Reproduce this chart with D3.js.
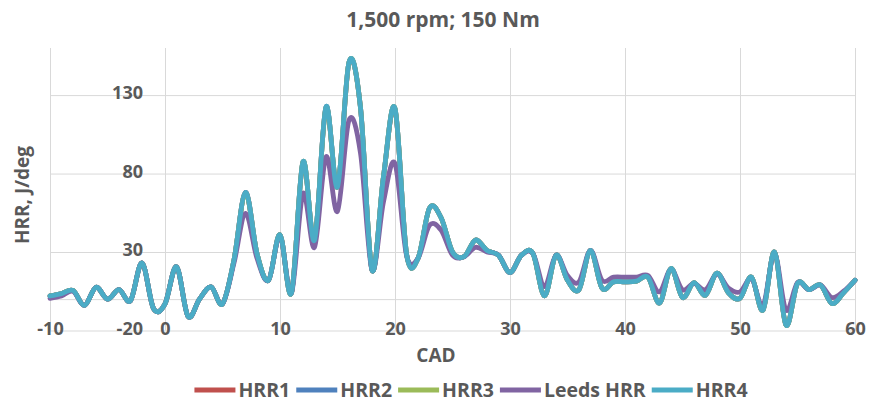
<!DOCTYPE html>
<html>
<head>
<meta charset="utf-8">
<script src="https://cdn.jsdelivr.net/npm/d3@7"></script>
<style>
  body { margin: 0; background: #fff; }
  svg text { font-family: "Open Sans", sans-serif; font-weight: 700; fill: #595959; }
</style>
</head>
<body>
<div id="chart"></div>
<script>
// crank angle (deg)
var cad = [-10, -9, -8, -7, -6, -5, -4, -3, -2, -1, 0, 1, 2, 3, 4, 5, 6, 7, 8, 9,
  10, 11, 12, 13, 14, 15, 16, 17, 18, 19, 20, 21, 22, 23, 24, 25, 26, 27, 28, 29,
  30, 31, 32, 33, 34, 35, 36, 37, 38, 39, 40, 41, 42, 43, 44, 45, 46, 47, 48, 49,
  50, 51, 52, 53, 54, 55, 56, 57, 58, 59, 60];

var hrr1 = [2, 3.5, 5.5, -4, 7.5, 0, 6, -1, 23, -6, -3, 20.5, -11, 0, 7.8, -3, 25, 68, 29, 12,
  41, 4, 87, 37.6, 122, 71.5, 150.5, 122, 18.5, 78, 121, 29, 26, 58, 52, 30, 27, 37.6, 31, 28,
  17, 28, 29, 2, 28, 12, 6, 31, 7, 11, 11, 11.5, 14, -2.5, 19.5, 1, 10.5, 2.5, 16.5, 4,
  0.5, 14, -7, 30, -16.6, 10, 6, 9, -2.8, 4, 12];
var hrr2 = [2, 3.5, 5.5, -4, 7.5, 0, 6, -1, 23, -6, -3, 20.5, -11, 0, 7.8, -3, 25, 68, 29, 12,
  41, 4, 87.5, 37.6, 122.5, 71.5, 151, 122, 18.5, 78, 121.5, 29, 26, 58, 52, 30, 27, 37.6, 31, 28,
  17, 28, 29, 2, 28, 12, 6, 31, 7, 11, 11, 11.5, 14, -2.5, 19.5, 1, 10.5, 2.5, 16.5, 4,
  0.5, 14, -7, 30, -16.6, 10, 6, 9, -2.8, 4, 12];
var hrr3 = [2, 3.5, 5.5, -4, 7.5, 0, 6, -1, 23, -6, -3, 20.5, -11, 0, 7.8, -3, 25, 67.5, 29, 12,
  41, 4, 87.5, 37.6, 122, 71.5, 151, 122, 18.5, 78, 121.5, 29, 26, 58, 52, 30, 27, 37.6, 31, 28,
  17, 28, 29, 2, 28, 12, 6, 31, 7, 11, 11, 11.5, 14, -2.5, 19.5, 1, 10.5, 2.5, 16.5, 4,
  0.5, 14, -7, 30, -16.6, 10, 6, 9, -2.8, 4, 12];
var leedsHrr = [0.5, 2, 5, -4, 7.5, 0, 6, -1, 23, -6, -3, 20.5, -11, 0, 7.8, -3, 23, 54.6, 26, 12,
  40, 4, 67.3, 33, 90.6, 56, 114, 93, 18.5, 62, 86.4, 28, 26, 47, 44, 28, 27, 33, 30, 28,
  17, 28, 29, 8, 28, 15, 11, 31, 12, 14, 14, 14, 15, 4.6, 19, 6, 10, 6, 16, 7,
  4.6, 13, -4, 29, -7, 10.5, 6, 9, 1, 5, 12];
var hrr4 = [2, 3.5, 5.5, -4, 7.5, 0, 6, -1, 23, -6, -3, 20.5, -11, 0, 7.8, -3, 25, 68, 29, 12,
  41, 4, 87.5, 37.6, 122.5, 71.5, 151, 122, 18.5, 78, 121.5, 29, 26, 58, 52, 30, 27, 37.6, 31, 28,
  17, 28, 29, 2, 28, 12, 6, 31, 7, 11, 11, 11.5, 14, -2.5, 19.5, 1, 10.5, 2.5, 16.5, 4,
  0.5, 14, -7, 30, -16.6, 10, 6, 9, -2.8, 4, 12];

var seriesNames = ["HRR1", "HRR2", "HRR3", "Leeds HRR", "HRR4"];
var seriesColors = ["#c0504d", "#4f81bd", "#9bbb59", "#8064a2", "#4bacc6"];
var xTicks = [-10, 0, 10, 20, 30, 40, 50, 60];
var yTicks = [-20, 30, 80, 130];

var width = 870, height = 408;
var plotLeft = 50, plotRight = 855, plotTop = 48, plotBottom = 330.5;

var svg = d3.select("#chart").append("svg")
    .attr("width", width)
    .attr("height", height);

var x = d3.scaleLinear().domain([-10, 60]).range([plotLeft, plotRight]);
var y = d3.scaleLinear().domain([-20, 160]).range([plotBottom, plotTop]);

// gridlines
svg.append("g")
    .attr("transform", "translate(0," + plotBottom + ")")
    .call(d3.axisBottom(x).tickValues(xTicks).tickSize(-(plotBottom - plotTop)).tickFormat(""))
    .call(function(g) {
      g.select(".domain").remove();
      g.selectAll("line").attr("stroke", "#d9d9d9");
    });

svg.append("g")
    .attr("transform", "translate(" + plotLeft + ",0)")
    .call(d3.axisLeft(y).tickValues(yTicks.concat([0])).tickSize(-(plotRight - plotLeft)).tickFormat(""))
    .call(function(g) {
      g.select(".domain").remove();
      g.selectAll("line").attr("stroke", "#d9d9d9");
    });

// y tick labels sit beside the x=0 axis
svg.append("g")
    .attr("transform", "translate(" + (x(0) - 22) + ",0)")
    .call(d3.axisLeft(y).tickValues(yTicks).tickSize(0).tickPadding(0)
      .tickFormat(function(d) { return String(d); }))
    .call(function(g) {
      g.select(".domain").remove();
      g.selectAll("text")
          .attr("dy", "0.32em")
          .attr("y", -2)
          .attr("x", 0)
          .attr("font-size", null)
          .attr("font-family", null)
          .attr("fill", null)
          .style("font-size", "18px");
    });

// x tick labels along the bottom
svg.append("g")
    .attr("transform", "translate(0," + (plotBottom - 2) + ")")
    .call(d3.axisBottom(x).tickValues(xTicks).tickSize(0).tickPadding(0)
      .tickFormat(function(d) { return String(d); }))
    .call(function(g) {
      g.select(".domain").remove();
      g.selectAll("text")
          .attr("y", 0)
          .attr("dy", "0.35em")
          .attr("font-size", null)
          .attr("font-family", null)
          .attr("fill", null)
          .style("font-size", "18px");
    });

var line = d3.line()
    .x(function(d) { return x(d[0]); })
    .y(function(d) { return y(d[1]); })
    .curve(d3.curveCardinal.tension(0));

var allSeries = [hrr1, hrr2, hrr3, leedsHrr, hrr4];
allSeries.forEach(function(vals, i) {
  svg.append("path")
      .datum(cad.map(function(c, j) { return [c, vals[j]]; }))
      .attr("fill", "none")
      .attr("stroke", seriesColors[i])
      .attr("stroke-width", 4.8)
      .attr("stroke-linejoin", "round")
      .attr("stroke-linecap", "round")
      .attr("d", line);
});

// titles
svg.append("text")
    .attr("x", 443).attr("y", 20)
    .attr("dy", "0.35em")
    .attr("text-anchor", "middle")
    .style("font-size", "21px")
    .text("1,500 rpm; 150 Nm");

svg.append("text")
    .attr("transform", "translate(22,195) rotate(-90)")
    .attr("dy", "0.35em")
    .attr("text-anchor", "middle")
    .style("font-size", "19px")
    .text("HRR, J/deg");

svg.append("text")
    .attr("x", 436).attr("y", 355)
    .attr("dy", "0.35em")
    .attr("text-anchor", "middle")
    .style("font-size", "19px")
    .text("CAD");

// legend
var legend = svg.append("g");
var lx = 0;
seriesNames.forEach(function(name, i) {
  var item = legend.append("g").attr("transform", "translate(" + lx + ",0)");
  item.append("line")
      .attr("x1", 0).attr("x2", 41)
      .attr("stroke", seriesColors[i])
      .attr("stroke-width", 4.8);
  var t = item.append("text")
      .attr("x", 44)
      .attr("dy", "0.35em")
      .style("font-size", "19.5px")
      .text(name);
  lx += 44 + t.node().getComputedTextLength() + 6;
});
legend.attr("transform", "translate(" + (471 - (lx - 6) / 2) + ",390)");
</script>
</body>
</html>
